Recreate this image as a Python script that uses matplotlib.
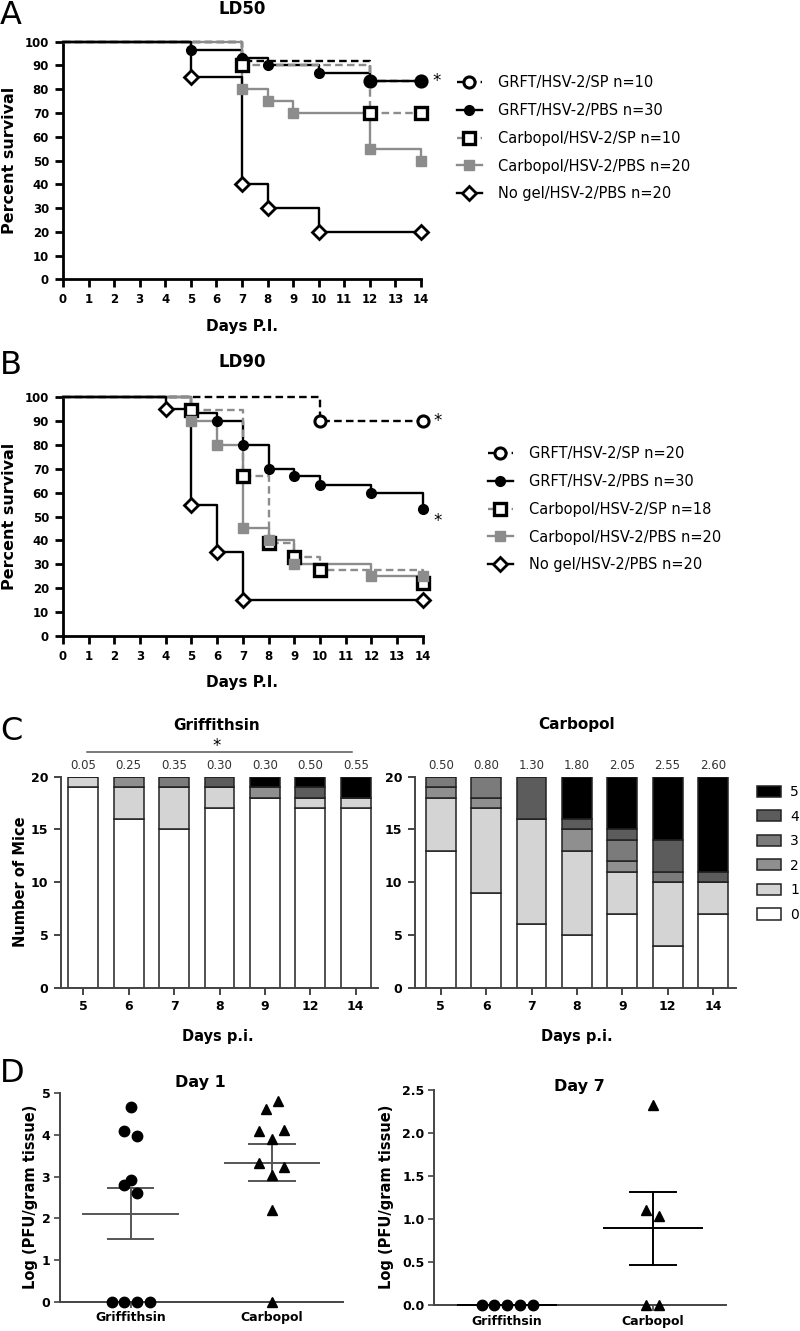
import numpy as np
import matplotlib
matplotlib.use('Agg')
import matplotlib.pyplot as plt
from matplotlib.lines import Line2D
from matplotlib.patches import Patch

# ---------------- data ----------------
# panel A (LD50) survival curves: event days and percent survival
a_grft_sp_t = [0, 7, 12, 14]
a_grft_sp_s = [100, 91.7, 83.3, 83.3]
a_grft_pbs_t = [0, 5, 7, 8, 10, 12, 14]
a_grft_pbs_s = [100, 96.7, 93.3, 90, 86.7, 83.3, 83.3]
a_carb_sp_t = [0, 7, 12, 14]
a_carb_sp_s = [100, 90, 70, 70]
a_carb_pbs_t = [0, 7, 8, 9, 12, 14]
a_carb_pbs_s = [100, 80, 75, 70, 55, 50]
a_nogel_t = [0, 5, 7, 8, 10, 14]
a_nogel_s = [100, 85, 40, 30, 20, 20]
a_labels = ['GRFT/HSV-2/SP n=10', 'GRFT/HSV-2/PBS n=30', 'Carbopol/HSV-2/SP n=10',
            'Carbopol/HSV-2/PBS n=20', 'No gel/HSV-2/PBS n=20']

# panel B (LD90)
b_grft_sp_t = [0, 10, 14]
b_grft_sp_s = [100, 90, 90]
b_grft_pbs_t = [0, 5, 6, 7, 8, 9, 10, 12, 14]
b_grft_pbs_s = [100, 93.3, 90, 80, 70, 66.7, 63.3, 60, 53.3]
b_carb_sp_t = [0, 5, 7, 8, 9, 10, 14]
b_carb_sp_s = [100, 94.4, 66.7, 38.9, 33.3, 27.8, 22.2]
b_carb_pbs_t = [0, 5, 6, 7, 8, 9, 12, 14]
b_carb_pbs_s = [100, 90, 80, 45, 40, 30, 25, 25]
b_nogel_t = [0, 4, 5, 6, 7, 14]
b_nogel_s = [100, 95, 55, 35, 15, 15]
b_labels = ['GRFT/HSV-2/SP n=20', 'GRFT/HSV-2/PBS n=30', 'Carbopol/HSV-2/SP n=18',
            'Carbopol/HSV-2/PBS n=20', 'No gel/HSV-2/PBS n=20']

# panel C: number of mice per disease score
c_days = ['5', '6', '7', '8', '9', '12', '14']
grf_score0 = [19, 16, 15, 17, 18, 17, 17]
grf_score1 = [1, 3, 4, 2, 0, 1, 1]
grf_score2 = [0, 1, 0, 0, 1, 0, 0]
grf_score3 = [0, 0, 1, 0, 0, 0, 0]
grf_score4 = [0, 0, 0, 1, 0, 1, 0]
grf_score5 = [0, 0, 0, 0, 1, 1, 2]
grf_mean = [0.05, 0.25, 0.35, 0.30, 0.30, 0.50, 0.55]
carb_score0 = [13, 9, 6, 5, 7, 4, 7]
carb_score1 = [5, 8, 10, 8, 4, 6, 3]
carb_score2 = [1, 1, 0, 2, 1, 0, 0]
carb_score3 = [1, 2, 0, 0, 2, 1, 0]
carb_score4 = [0, 0, 4, 1, 1, 3, 1]
carb_score5 = [0, 0, 0, 4, 5, 6, 9]
carb_mean = [0.50, 0.80, 1.30, 1.80, 2.05, 2.55, 2.60]
score_names = ['0', '1', '2', '3', '4', '5']

# panel D: log PFU / gram tissue
d1_grf = [4.68, 4.10, 3.98, 2.93, 2.80, 2.60, 0, 0, 0, 0]
d1_grf_jit = [0, -0.045, 0.043, 0, -0.045, 0.043, -0.135, -0.045, 0.043, 0.135]
d1_carb = [4.82, 4.62, 4.13, 4.10, 3.90, 3.33, 3.22, 3.05, 2.20, 0]
d1_carb_jit = [0.043, -0.045, 0.085, -0.09, 0, -0.09, 0.085, 0, 0, 0]
d7_grf = [0, 0, 0, 0, 0]
d7_grf_jit = [-0.176, -0.088, 0, 0.088, 0.176]
d7_carb = [2.32, 1.10, 1.03, 0, 0]
d7_carb_jit = [0, -0.046, 0.043, -0.046, 0.043]
d_groups = ['Griffithsin', 'Carbopol']

# ---------------- figure ----------------
W, H = 800, 1331
fig = plt.figure(figsize=(8, 13.31), dpi=100)


def add_ax(l, t, r, b):
    return fig.add_axes([l / W, 1 - b / H, (r - l) / W, (b - t) / H])


def ftext(x, y, s, **kw):
    fig.text(x / W, 1 - y / H, s, **kw)


GRAY = '#8c8c8c'
DASH = (0, (3.2, 1.8))
styles = [
    dict(color='black', ls=DASH, marker='o', mfc='white', mec='black', ms=8, mew=2.2),
    dict(color='black', ls='-', marker='o', mfc='black', mec='black', ms=7, mew=1),
    dict(color=GRAY, ls=DASH, marker='s', mfc='white', mec='black', ms=8, mew=2.4),
    dict(color=GRAY, ls='-', marker='s', mfc=GRAY, mec=GRAY, ms=7, mew=1),
    dict(color='black', ls='-', marker='D', mfc='white', mec='black', ms=7, mew=2),
]
draw_order = [3, 2, 4, 1, 0]


def survival_panel(ax, curves, labels, leg_xy):
    for i in draw_order:
        t, s = curves[i]
        st = styles[i]
        ax.step(t, s, where='post', color=st['color'], ls=st['ls'], lw=1.7,
                clip_on=False, zorder=2 + i)
        ax.plot(t[1:], s[1:], ls='none', marker=st['marker'], mfc=st['mfc'],
                mec=st['mec'], ms=st['ms'], mew=st['mew'], clip_on=False, zorder=8 + i)
    ax.set_xlim(0, 14)
    ax.set_ylim(0, 100)
    ax.set_xticks(range(0, 15))
    ax.set_yticks(range(0, 101, 10))
    for sp in ['top', 'right']:
        ax.spines[sp].set_visible(False)
    for sp in ['left', 'bottom']:
        ax.spines[sp].set_linewidth(2)
    ax.tick_params(direction='out', length=6, width=2, labelsize=8.5, pad=4)
    for lab in ax.get_xticklabels() + ax.get_yticklabels():
        lab.set_fontweight('bold')
    handles = [Line2D([0], [0], color=st['color'], ls=st['ls'], lw=1.7, marker=st['marker'],
                      mfc=st['mfc'], mec=st['mec'], ms=st['ms'], mew=st['mew'])
               for st in styles]
    fig.legend(handles, labels, loc='upper left',
               bbox_to_anchor=(leg_xy[0] / W, 1 - leg_xy[1] / H), frameon=False,
               fontsize=10.5, handlelength=1.7, handletextpad=1.1, labelspacing=0.88,
               borderpad=0, borderaxespad=0)


# panel A
axA = add_ax(63, 41.7, 421, 279.3)
survival_panel(axA, [(a_grft_sp_t, a_grft_sp_s), (a_grft_pbs_t, a_grft_pbs_s),
                     (a_carb_sp_t, a_carb_sp_s), (a_carb_pbs_t, a_carb_pbs_s),
                     (a_nogel_t, a_nogel_s)], a_labels, (457, 75))
axA.text(14.6, 83.3, '*', fontsize=12, ha='center', va='center')
ftext(242, 9, 'LD50', fontsize=12, fontweight='bold', ha='center', va='center')
ftext(242, 326, 'Days P.I.', fontsize=11, fontweight='bold', ha='center', va='center')
ftext(10, 160, 'Percent survival', fontsize=11.5, fontweight='bold', rotation=90,
      ha='center', va='center')
ftext(0, 16, 'A', fontsize=23, ha='left', va='center')

# panel B
axB = add_ax(63, 396.7, 422.7, 636.3)
survival_panel(axB, [(b_grft_sp_t, b_grft_sp_s), (b_grft_pbs_t, b_grft_pbs_s),
                     (b_carb_sp_t, b_carb_sp_s), (b_carb_pbs_t, b_carb_pbs_s),
                     (b_nogel_t, b_nogel_s)], b_labels, (488, 446))
axB.text(14.6, 90, '*', fontsize=12, ha='center', va='center')
axB.text(14.6, 48, '*', fontsize=12, ha='center', va='center')
ftext(242, 362, 'LD90', fontsize=12, fontweight='bold', ha='center', va='center')
ftext(242, 683, 'Days P.I.', fontsize=11, fontweight='bold', ha='center', va='center')
ftext(10, 516, 'Percent survival', fontsize=11.5, fontweight='bold', rotation=90,
      ha='center', va='center')
ftext(0, 366, 'B', fontsize=23, ha='left', va='center')

# panel C
score_colors = ['white', '#d4d4d4', '#8f8f8f', '#7b7b7b', '#5c5c5c', 'black']


def score_panel(ax, counts, means):
    x = np.arange(len(c_days))
    bottom = np.zeros(len(c_days))
    for k, cnt in enumerate(counts):
        ax.bar(x, cnt, 0.66, bottom=bottom, color=score_colors[k], edgecolor='#222',
               linewidth=1.1, zorder=2)
        bottom += np.array(cnt)
    for xi, m in zip(x, means):
        ax.text(xi, 21.1, '%.2f' % m, fontsize=8.5, ha='center', va='center', color='#333')
    ax.set_ylim(0, 20)
    ax.set_yticks([0, 5, 10, 15, 20])
    ax.set_xticks(x)
    ax.set_xticklabels(c_days)
    for sp in ['top', 'right']:
        ax.spines[sp].set_visible(False)
    for sp in ['left', 'bottom']:
        ax.spines[sp].set_linewidth(1.4)
        ax.spines[sp].set_color('#444')
    ax.tick_params(direction='out', length=5, width=1.4, color='#444', labelsize=9, pad=4)
    for lab in ax.get_xticklabels() + ax.get_yticklabels():
        lab.set_fontweight('bold')


axC1 = add_ax(61, 776.7, 378, 987.7)
score_panel(axC1, [grf_score0, grf_score1, grf_score2, grf_score3, grf_score4, grf_score5],
            grf_mean)
axC1.set_xlim(-0.49, 6.49)
axC1.plot([0.08, 5.92], [22.3, 22.3], color='#555', lw=1.1, clip_on=False)
axC1.text(2.93, 22.9, '*', fontsize=12, ha='center', va='center')

axC2 = add_ax(415, 776.7, 736, 987.7)
score_panel(axC2, [carb_score0, carb_score1, carb_score2, carb_score3, carb_score4, carb_score5],
            carb_mean)
axC2.set_xlim(-0.57, 6.51)

ftext(217, 725, 'Griffithsin', fontsize=11, fontweight='bold', ha='center', va='center')
ftext(577, 725, 'Carbopol', fontsize=11, fontweight='bold', ha='center', va='center')
ftext(218, 1037, 'Days p.i.', fontsize=10.5, fontweight='bold', ha='center', va='center')
ftext(577, 1037, 'Days p.i.', fontsize=10.5, fontweight='bold', ha='center', va='center')
ftext(21, 882, 'Number of Mice', fontsize=10.5, fontweight='bold', rotation=90,
      ha='center', va='center')
ftext(0, 732, 'C', fontsize=23, ha='left', va='center')

leg_handles = [Patch(facecolor=score_colors[k], edgecolor='#222', linewidth=1.1)
               for k in range(5, -1, -1)]
fig.legend(leg_handles, score_names[::-1], loc='upper left',
           bbox_to_anchor=(757 / W, 1 - 785 / H), frameon=False, fontsize=10,
           handlelength=1.7, handleheight=0.85, handletextpad=0.7, labelspacing=0.76,
           borderpad=0, borderaxespad=0)

# panel D


def pfu_panel(ax, groups, jits, ymax, yticks, fmt, bar_color):
    markers = ['o', '^']
    for i, (vals, jit) in enumerate(zip(groups, jits)):
        ax.plot(np.array(jit) + i, vals, ls='none', marker=markers[i], color='black',
                ms=7.5, clip_on=False, zorder=4)
        v = np.array(vals, dtype=float)
        m = v.mean()
        sem = v.std(ddof=1) / np.sqrt(len(v))
        ax.plot([i - 0.335, i + 0.335], [m, m], color=bar_color, lw=1.4, zorder=3,
                clip_on=False)
        if sem > 0:
            ax.plot([i, i], [m - sem, m + sem], color=bar_color, lw=1.4, zorder=3)
            for yy in (m - sem, m + sem):
                ax.plot([i - 0.16, i + 0.16], [yy, yy], color=bar_color, lw=1.4, zorder=3)
    ax.set_xlim(-0.5, 1.5)
    ax.set_ylim(0, ymax)
    ax.set_yticks(yticks)
    ax.set_yticklabels([fmt % t for t in yticks])
    ax.set_xticks([0, 1])
    ax.set_xticklabels(d_groups)
    for sp in ['top', 'right']:
        ax.spines[sp].set_visible(False)
    for sp in ['left', 'bottom']:
        ax.spines[sp].set_linewidth(1.4)
        ax.spines[sp].set_color('#444')
    ax.tick_params(direction='out', length=4, width=1.2, color='#444', labelsize=9, pad=3)
    for lab in ax.get_xticklabels() + ax.get_yticklabels():
        lab.set_fontweight('bold')


axD1 = add_ax(60, 1093.3, 342.7, 1301.7)
pfu_panel(axD1, [d1_grf, d1_carb], [d1_grf_jit, d1_carb_jit], 5, [0, 1, 2, 3, 4, 5],
          '%d', '#555')
axD2 = add_ax(434.3, 1090, 726, 1305)
pfu_panel(axD2, [d7_grf, d7_carb], [d7_grf_jit, d7_carb_jit], 2.5,
          [0, 0.5, 1.0, 1.5, 2.0, 2.5], '%.1f', 'black')

ftext(200, 1082, 'Day 1', fontsize=11.5, fontweight='bold', ha='center', va='center')
ftext(579, 1086, 'Day 7', fontsize=11.5, fontweight='bold', ha='center', va='center')
ftext(31, 1197, 'Log (PFU/gram tissue)', fontsize=10.5, fontweight='bold', rotation=90,
      ha='center', va='center')
ftext(386, 1197, 'Log (PFU/gram tissue)', fontsize=10.5, fontweight='bold', rotation=90,
      ha='center', va='center')
ftext(0, 1073, 'D', fontsize=23, ha='left', va='center')

fig.savefig('out.png', dpi=100)
